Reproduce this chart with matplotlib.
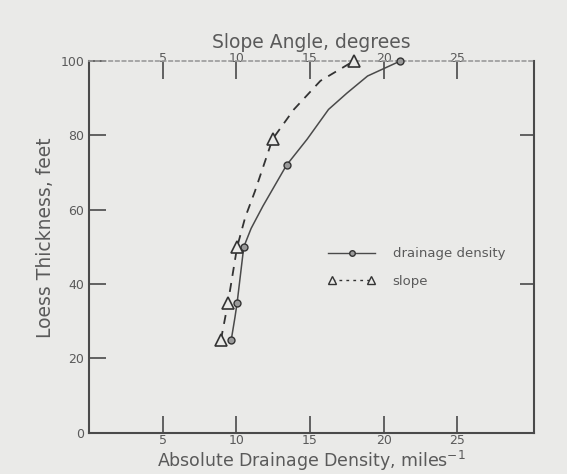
import matplotlib
matplotlib.use("Agg")
import matplotlib.pyplot as plt
from matplotlib.lines import Line2D
from matplotlib.legend_handler import HandlerLine2D

# measured points (x: drainage density / slope angle, y: loess thickness)
DD_X = [9.65, 10.05, 10.5, 13.4, 21.1]
DD_Y = [25, 35, 50, 72, 100]
SL_X = [8.95, 9.43, 10.05, 12.45, 17.95]
SL_Y = [25, 35, 50, 79, 100]

# hand-drawn fitted curves
DD_CURVE_X = [9.65, 9.9, 10.05, 10.5, 11.0, 11.8, 13.4, 14.8, 16.25, 17.5, 18.9, 21.1]
DD_CURVE_Y = [25, 31, 35, 50, 55, 61, 72, 79, 87, 91.4, 96, 100]
SL_CURVE_X = [8.95, 9.43, 10.05, 10.6, 11.26, 12.45, 13.9, 15.7, 17.95]
SL_CURVE_Y = [25, 35, 50, 58, 65, 79, 87, 94.7, 100]

X_TICKS = [5, 10, 15, 20, 25]
Y_TICKS = [0, 20, 40, 60, 80, 100]

BG = "#eaeae8"
INK = "#4a4a4a"
TXT = "#5a5a5a"

fig = plt.figure(figsize=(5.67, 4.74), dpi=100, facecolor=BG)
ax = fig.add_axes([0.157, 0.087, 0.785, 0.784], facecolor=BG)

ax.plot(DD_CURVE_X, DD_CURVE_Y, color=INK, lw=1.1, zorder=2, clip_on=False)
ax.plot(SL_CURVE_X, SL_CURVE_Y, color="#333333", lw=1.3, ls=(0, (5, 4)), zorder=2, clip_on=False)
ax.plot(DD_X, DD_Y, "o", ms=5, mfc="#9a9a9a", mec="#333333", mew=1.0, zorder=3, clip_on=False)
ax.plot(SL_X, SL_Y, "^", ms=8, mfc=BG, mec="#333333", mew=1.2, zorder=3, clip_on=False)

ax.set_xlim(0, 30.2)
ax.set_ylim(0, 100)
ax.set_xticks(X_TICKS)
ax.set_yticks(Y_TICKS)
ax.tick_params(direction="in", length=12, width=1.2, color=INK, labelcolor=TXT, labelsize=9)
ax.tick_params(axis="x", pad=1)
for side in ["left", "bottom", "right"]:
    ax.spines[side].set_color(INK)
    ax.spines[side].set_linewidth(1.5)
ax.spines["top"].set_color("#9a9a9a")
ax.spines["top"].set_linewidth(1.2)
ax.spines["top"].set_linestyle((0, (2, 2)))

# right spine: a couple of unlabeled inward ticks
rax = ax.secondary_yaxis("right")
rax.set_yticks([40, 80])
rax.tick_params(direction="in", length=10, width=1.2, color=INK, labelright=False)
rax.spines["right"].set_visible(False)

# top axis: slope angle, same scale
tax = ax.secondary_xaxis("top")
tax.set_xticks(X_TICKS)
tax.tick_params(direction="in", length=13, width=1.2, color=INK, labelcolor=TXT, labelsize=9, pad=-3)
tax.spines["top"].set_visible(False)
tax.set_xlabel("Slope Angle, degrees", fontsize=13.5, color=TXT, labelpad=3)

ax.set_xlabel("Absolute Drainage Density, miles$^{-1}$", fontsize=12.5, color=TXT, labelpad=1)
ax.set_ylabel("Loess Thickness, feet", fontsize=13.5, color=TXT)
ax.yaxis.set_label_coords(-0.077, 0.526)

h_dd = Line2D([], [], color=INK, lw=1.0, marker="o", ms=4, mfc="#9a9a9a", mec="#333333")
h_sl = Line2D([], [], color="#333333", lw=1.0, ls=(0, (2, 3)), marker="^", ms=6, mfc=BG, mec="#333333")
ax.legend([h_dd, h_sl], ["drainage density", "slope"], loc="center left",
          bbox_to_anchor=(0.51, 0.445), frameon=False, fontsize=9.5, labelcolor=TXT,
          handlelength=3.6, handletextpad=1.3, labelspacing=1.1,
          handler_map={h_sl: HandlerLine2D(numpoints=2)})

fig.savefig("out.png", dpi=100, facecolor=BG)
